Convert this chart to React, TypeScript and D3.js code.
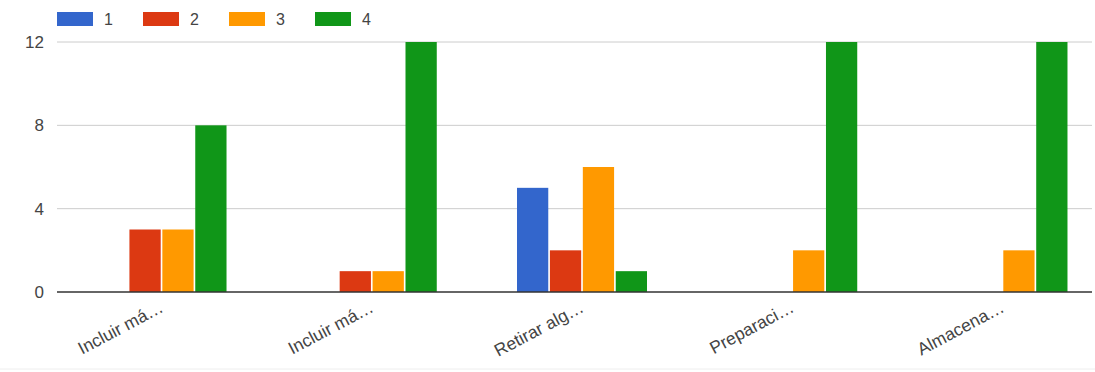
import React from "react";
import * as d3 from "d3";

// Categories (truncated as shown on the axis)
const categories: string[] = [
  "Incluir má…",
  "Incluir má…",
  "Retirar alg…",
  "Preparaci…",
  "Almacena…",
];

// Series names and their values per category
const seriesNames: string[] = ["1", "2", "3", "4"];
const series1: number[] = [0, 0, 5, 0, 0];
const series2: number[] = [3, 1, 2, 0, 0];
const series3: number[] = [3, 1, 6, 2, 2];
const series4: number[] = [8, 12, 1, 12, 12];
const seriesColors: string[] = ["#3366cc", "#dc3912", "#ff9900", "#109618"];

const yTicks: number[] = [0, 4, 8, 12];

const W = 1095;
const H = 372;

export default function App() {
  const values = [series1, series2, series3, series4];

  const x0 = d3
    .scaleBand<number>()
    .domain(categories.map((_, i) => i))
    .range([56.4, 1107.6])
    .paddingInner(0)
    .paddingOuter(0);

  const groupW = 130;
  const x1 = d3
    .scaleBand<number>()
    .domain(seriesNames.map((_, i) => i))
    .range([0, groupW])
    .paddingInner(0.05)
    .paddingOuter(0);

  const y = d3.scaleLinear().domain([0, 12]).range([292, 42]);

  const plotLeft = 57;
  const plotRight = 1092;

  return (
    <svg
      width={W}
      height={H}
      style={{ position: "absolute", left: 0, top: 0, background: "#fff" }}
      fontFamily="'Liberation Sans', Arial, sans-serif"
    >
      {/* legend */}
      {seriesNames.map((name, i) => {
        const lx = 57 + i * 86;
        return (
          <g key={"lg" + i}>
            <rect x={lx} y={12} width={36} height={14} fill={seriesColors[i]} />
            <text x={lx + 47} y={25} fontSize={16} fill="#444">
              {name}
            </text>
          </g>
        );
      })}

      {/* gridlines and y tick labels */}
      {yTicks.map((t) => (
        <g key={"t" + t}>
          {t !== 0 && (
            <line
              x1={plotLeft}
              x2={plotRight}
              y1={y(t)}
              y2={y(t)}
              stroke="#cccccc"
              strokeWidth={1}
            />
          )}
          <text
            x={44}
            y={y(t) + 6}
            textAnchor="end"
            fontSize={17}
            fill="#444"
          >
            {t}
          </text>
        </g>
      ))}

      {/* bars */}
      {categories.map((_, ci) => {
        const gx = (x0(ci) as number) + x0.bandwidth() / 2 - groupW / 2;
        return (
          <g key={"g" + ci} transform={`translate(${gx},0)`}>
            {values.map((vals, si) => {
              const v = vals[ci];
              if (v <= 0) return null;
              return (
                <rect
                  key={si}
                  x={x1(si) as number}
                  y={y(v)}
                  width={x1.bandwidth()}
                  height={y(0) - y(v)}
                  fill={seriesColors[si]}
                />
              );
            })}
          </g>
        );
      })}

      {/* baseline */}
      <line
        x1={plotLeft}
        x2={plotRight}
        y1={y(0)}
        y2={y(0)}
        stroke="#333"
        strokeWidth={1.5}
      />

      {/* category labels */}
      {categories.map((c, ci) => {
        const cx = (x0(ci) as number) + x0.bandwidth() / 2 + 3;
        const cy = 311;
        return (
          <text
            key={"c" + ci}
            x={cx}
            y={cy}
            textAnchor="end"
            fontSize={17.5}
            fill="#444"
            transform={`rotate(-28, ${cx}, ${cy})`}
          >
            {c}
          </text>
        );
      })}

      {/* bottom rule */}
      <line x1={0} x2={W} y1={369} y2={369} stroke="#eeeeee" strokeWidth={1} />
    </svg>
  );
}
